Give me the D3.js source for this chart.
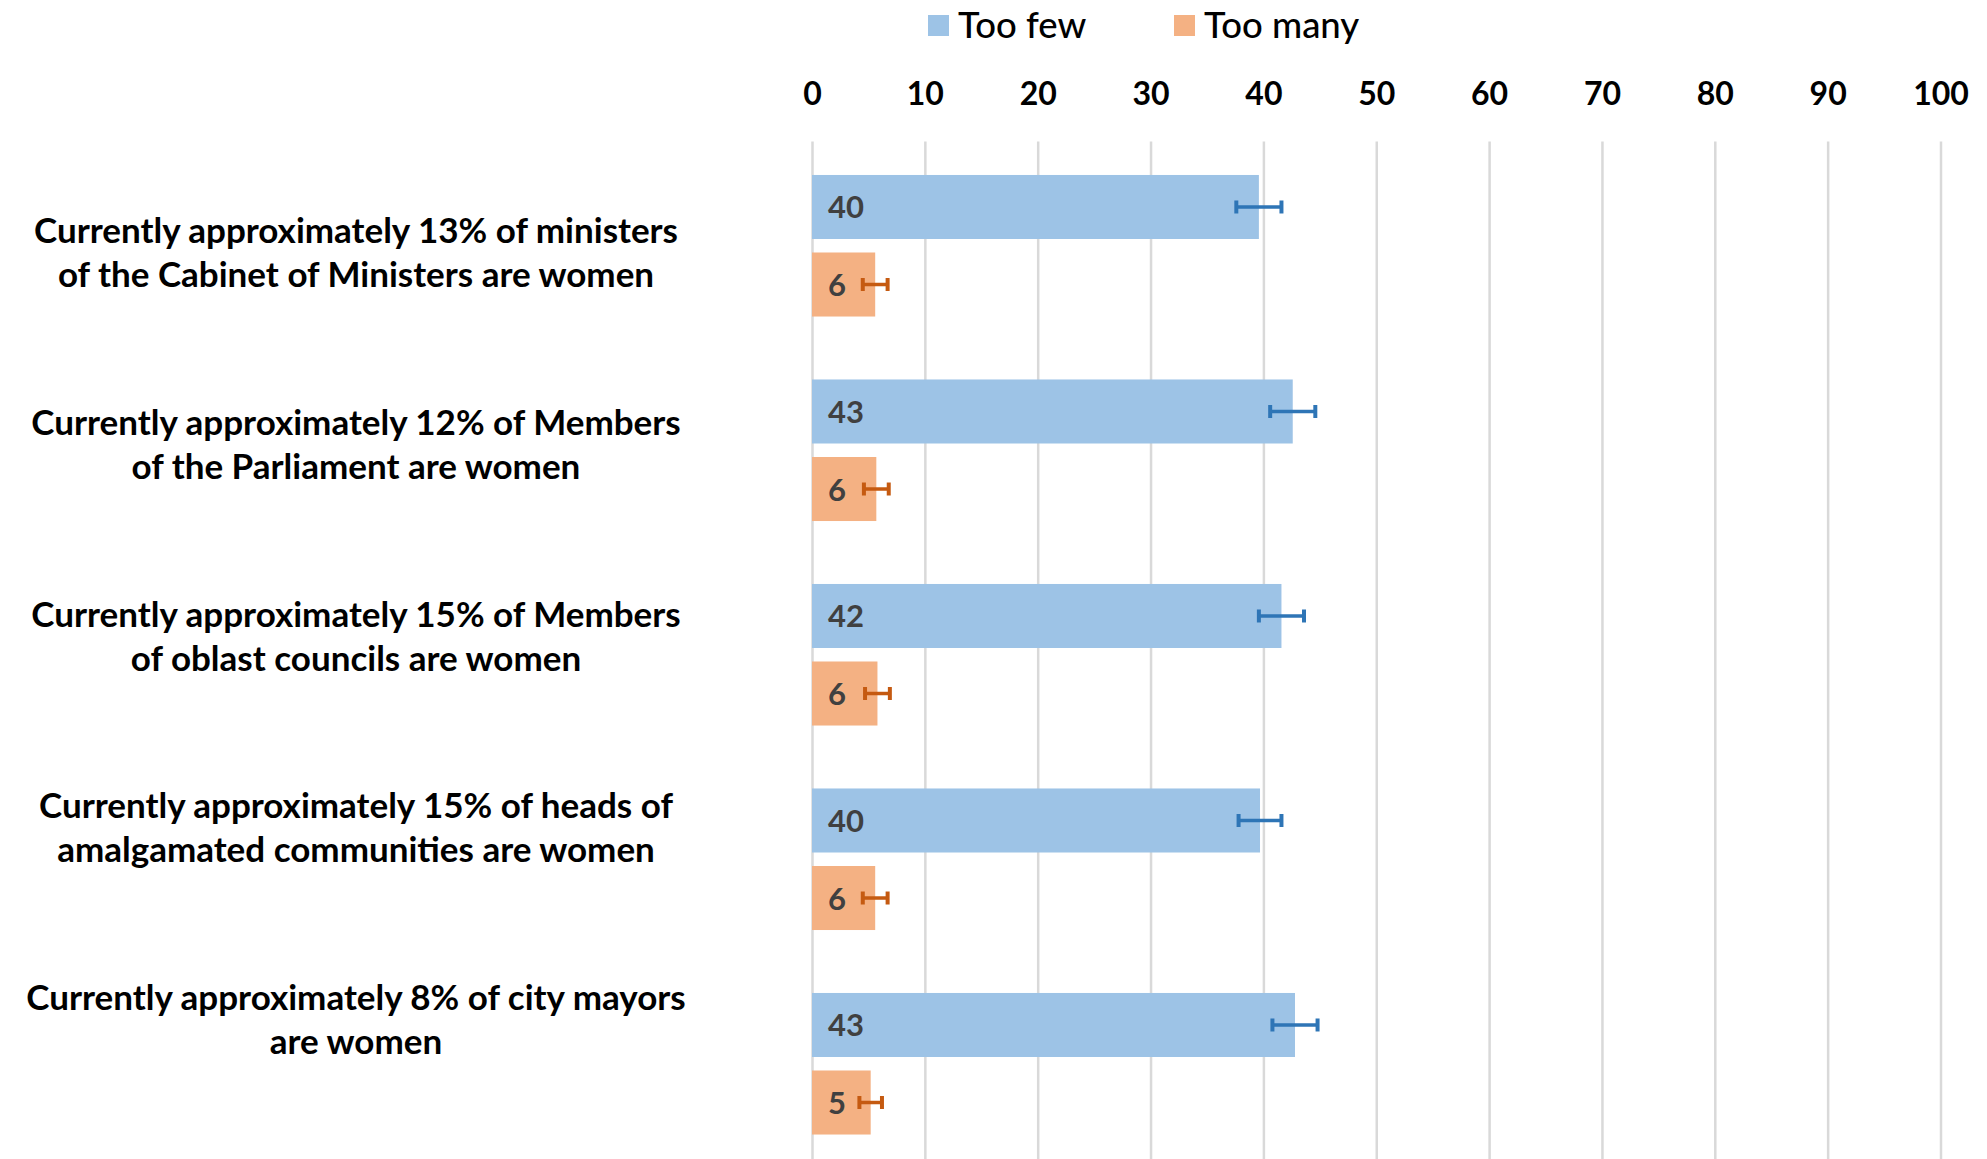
<!DOCTYPE html>
<html>
<head>
<meta charset="utf-8">
<script src="https://cdn.jsdelivr.net/npm/d3@7"></script>
<style>
  html, body { margin: 0; padding: 0; background: #ffffff; }
  svg { display: block; }
  text { font-family: Lato, "Open Sans", sans-serif; }
</style>
</head>
<body>
<svg id="chart" width="1987" height="1159"></svg>
<script>
// Survey responses: share saying women are "too few" / "too many" in each body
const categories = [
  "Currently approximately 13% of ministers\nof the Cabinet of Ministers are women",
  "Currently approximately 12% of Members\nof the Parliament are women",
  "Currently approximately 15% of Members\nof oblast councils are women",
  "Currently approximately 15% of heads of\namalgamated communities are women",
  "Currently approximately 8% of city mayors\nare women"
];
const seriesNames = ["Too few", "Too many"];
const tooFew = [39.6, 42.6, 41.6, 39.7, 42.8];
const tooMany = [5.6, 5.7, 5.8, 5.6, 5.2];
const tooFewErr = [2.0, 2.0, 2.0, 1.9, 2.0];
const tooManyErr = [1.1, 1.1, 1.1, 1.1, 1.0];
const xTicks = [0, 10, 20, 30, 40, 50, 60, 70, 80, 90, 100];

const fills = { "Too few": "#9dc3e6", "Too many": "#f4b183" };
const errColors = { "Too few": "#2e75b6", "Too many": "#c55a11" };

const rows = categories.map((c, i) => ({
  category: c,
  values: [
    { series: seriesNames[0], value: tooFew[i], err: tooFewErr[i] },
    { series: seriesNames[1], value: tooMany[i], err: tooManyErr[i] }
  ]
}));

const svg = d3.select("#chart");
const plot = { left: 812, right: 1940.5, top: 143.5, bottom: 1166 };

const x = d3.scaleLinear().domain([0, 100]).range([plot.left, plot.right]);
const y = d3.scaleBand().domain(categories).range([plot.top, plot.bottom]);
const ySub = d3.scaleBand().domain(seriesNames).range([0, y.bandwidth()])
  .paddingInner(0.174).paddingOuter(0.406);
// category captions sit on their own evenly spaced rows
const yLabel = d3.scalePoint().domain(categories).range([252.8, 1019.5]);

// vertical gridlines
svg.append("g")
  .attr("transform", `translate(0,${plot.top - 2})`)
  .call(d3.axisBottom(x).tickValues(xTicks).tickSize(plot.bottom - plot.top + 2).tickFormat(""))
  .call(g => g.select(".domain").remove())
  .call(g => g.selectAll(".tick line").attr("stroke", "#d9d9d9").attr("stroke-width", 2.5));

// value axis along the top
svg.append("g")
  .attr("transform", "translate(0,105)")
  .call(d3.axisTop(x).tickValues(xTicks).tickSize(0).tickPadding(0))
  .call(g => g.select(".domain").remove())
  .call(g => g.selectAll(".tick text")
    .attr("font-family", "Lato, sans-serif")
    .attr("font-size", 32)
    .attr("font-weight", 700)
    .attr("fill", "#000"));

// bars
const groups = svg.append("g").selectAll("g.cat")
  .data(rows).join("g")
  .attr("class", "cat")
  .attr("transform", d => `translate(0,${y(d.category)})`);

groups.selectAll("rect")
  .data(d => d.values).join("rect")
  .attr("x", x(0))
  .attr("y", d => ySub(d.series))
  .attr("width", d => x(d.value) - x(0))
  .attr("height", ySub.bandwidth())
  .attr("fill", d => fills[d.series]);

// value labels at the base of each bar
const fmt = d3.format(".0f");
groups.selectAll("text.val")
  .data(d => d.values).join("text")
  .attr("class", "val")
  .attr("x", x(0) + 16)
  .attr("y", d => ySub(d.series) + ySub.bandwidth() / 2 + 11.5)
  .attr("font-size", 31)
  .attr("font-weight", 700)
  .attr("fill", "#404040")
  .text(d => fmt(d.value));

// error bars
const eb = groups.selectAll("g.err")
  .data(d => d.values).join("g")
  .attr("class", "err")
  .attr("stroke", d => errColors[d.series])
  .attr("stroke-width", 3.5);
eb.append("line")
  .attr("x1", d => x(d.value - d.err)).attr("x2", d => x(d.value + d.err))
  .attr("y1", d => ySub(d.series) + ySub.bandwidth() / 2)
  .attr("y2", d => ySub(d.series) + ySub.bandwidth() / 2);
eb.selectAll("line.cap")
  .data(d => [d.value - d.err, d.value + d.err].map(v => ({ v, s: d.series })))
  .join("line").attr("class", "cap")
  .attr("stroke-width", 4)
  .attr("x1", d => x(d.v)).attr("x2", d => x(d.v))
  .attr("y1", d => ySub(d.s) + ySub.bandwidth() / 2 - 6.5)
  .attr("y2", d => ySub(d.s) + ySub.bandwidth() / 2 + 6.5);

// category captions
const lineGap = 44.3;
svg.append("g").selectAll("text")
  .data(categories).join("text")
  .attr("text-anchor", "middle")
  .attr("font-size", 35)
  .attr("font-weight", 700)
  .attr("fill", "#000")
  .each(function (c) {
    const lines = c.split("\n");
    const t = d3.select(this);
    const top = yLabel(c) - (lines.length - 1) * lineGap / 2;
    lines.forEach((ln, k) => {
      t.append("tspan")
        .attr("x", 356)
        .attr("y", top + k * lineGap + 12.5)
        .text(ln);
    });
  });

// legend
const legend = svg.append("g").selectAll("g")
  .data(seriesNames).join("g")
  .attr("transform", (d, i) => `translate(${i === 0 ? 928 : 1174},0)`);
legend.append("rect")
  .attr("x", 0).attr("y", 15).attr("width", 21).attr("height", 21)
  .attr("fill", d => fills[d]);
legend.append("text")
  .attr("x", 30).attr("y", 38)
  .attr("font-size", 36.5)
  .attr("font-weight", 500)
  .attr("fill", "#000")
  .text(d => d);
</script>
</body>
</html>
